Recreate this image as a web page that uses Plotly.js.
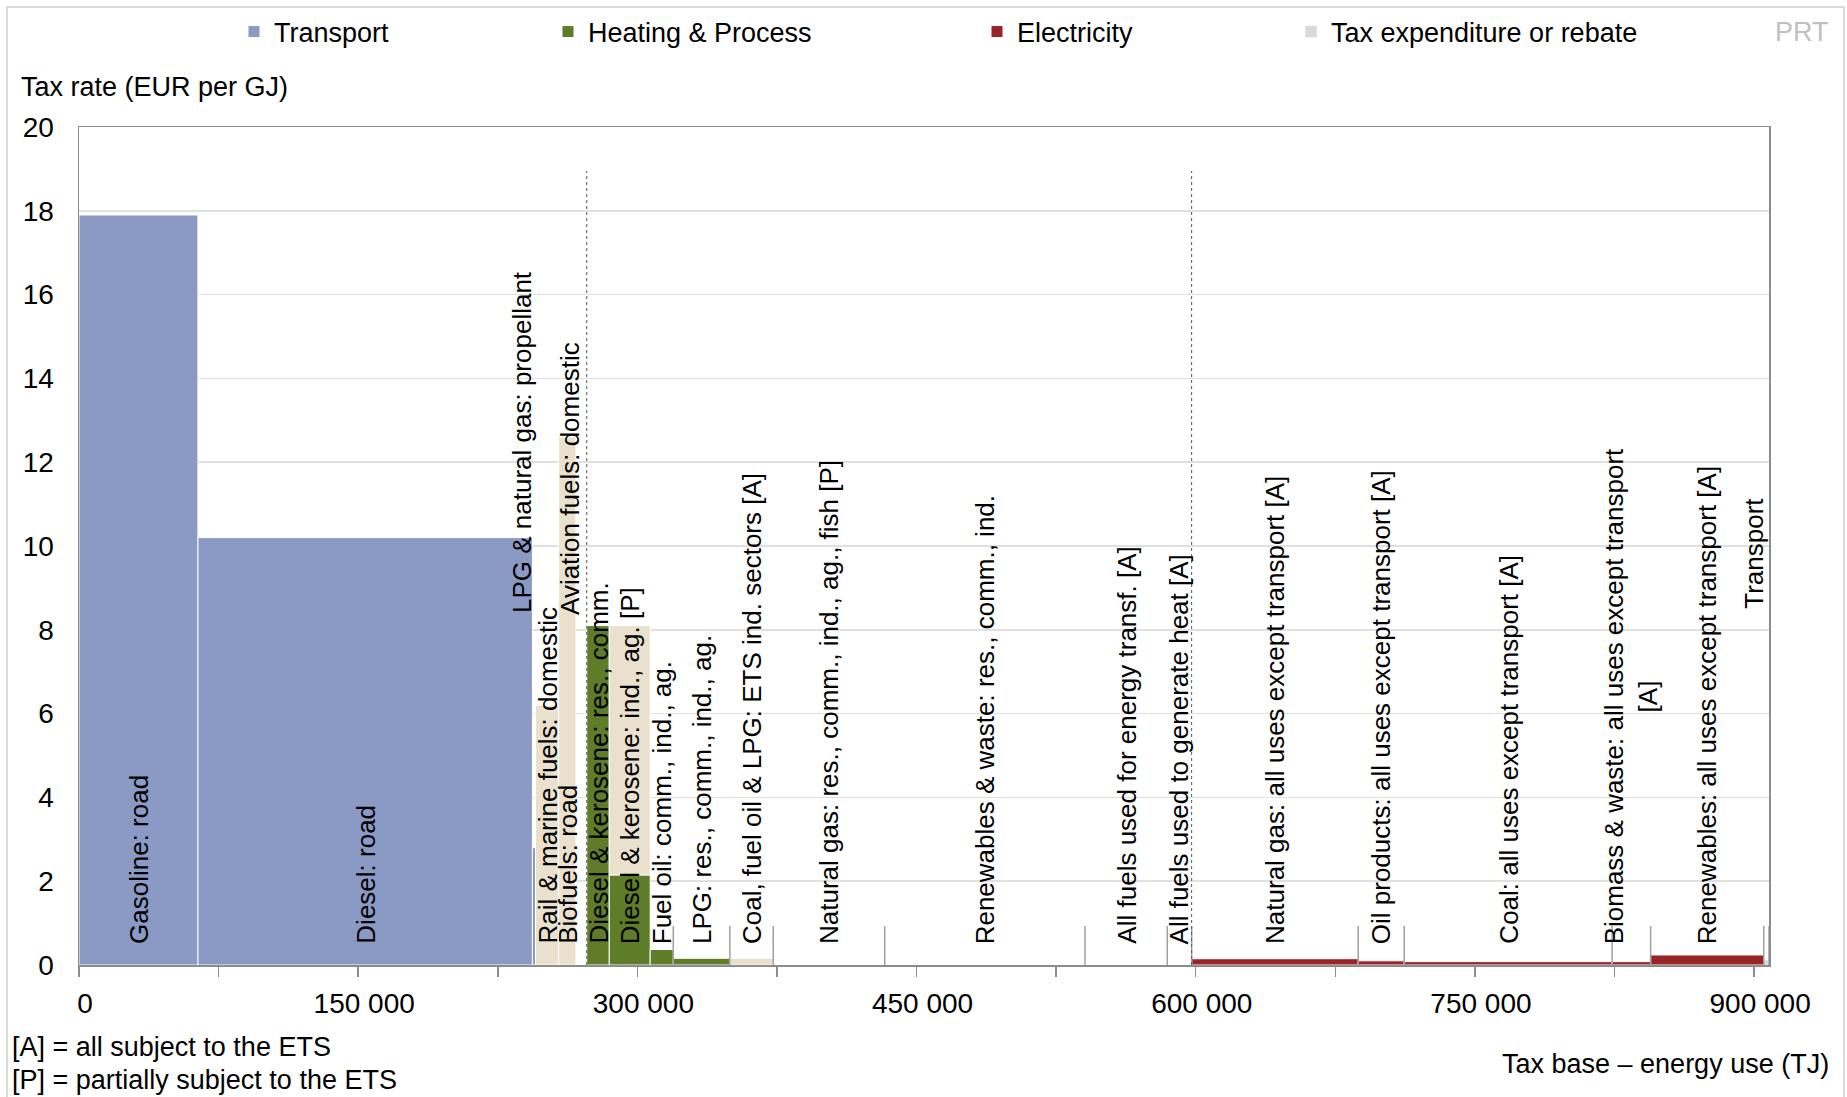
<!DOCTYPE html>
<html>
<head>
<meta charset="utf-8">
<script src="https://cdn.plot.ly/plotly-3.0.1.min.js"></script>
<style>
  html, body { margin: 0; padding: 0; background: #ffffff; }
  #chart { width: 1847px; height: 1097px; }
</style>
</head>
<body>
<div id="chart"></div>
<script>
// ---------------- DATA ----------------
const categories = [
  'Gasoline: road',
  'Diesel: road',
  'LPG & natural gas: propellant',
  'Rail & marine fuels: domestic',
  'Biofuels: road',
  'Aviation fuels: domestic',
  'Diesel & kerosene: res., comm.',
  'Diesel & kerosene: ind., ag. [P]',
  'Fuel oil: comm., ind., ag.',
  'LPG: res., comm., ind., ag.',
  'Coal, fuel oil & LPG: ETS ind. sectors [A]',
  'Natural gas: res., comm., ind., ag., fish [P]',
  'Renewables & waste: res., comm., ind.',
  'All fuels used for energy transf. [A]',
  'All fuels used to generate heat [A]',
  'Natural gas: all uses except transport [A]',
  'Oil products: all uses except transport [A]',
  'Coal: all uses except transport [A]',
  'Biomass & waste: all uses except transport<br>[A]',
  'Renewables: all uses except transport [A]',
  'Transport'
];
const sectors = [
  'Transport', 'Transport', 'Transport', 'Transport', 'Transport', 'Transport',
  'Heating & Process', 'Heating & Process', 'Heating & Process', 'Heating & Process', 'Heating & Process',
  'Heating & Process', 'Heating & Process', 'Heating & Process', 'Heating & Process',
  'Electricity', 'Electricity', 'Electricity', 'Electricity', 'Electricity', 'Electricity'
];
// Tax base: energy use (TJ)
const energyUse = [63900, 179700, 1700, 12400, 9300, 5800,
                   12100, 22000, 12400, 30400, 23300, 59900, 107600, 44200, 13100,
                   89500, 24700, 111700, 20700, 60800, 2800];
// Effective tax rate (EUR per GJ)
const taxRate = [17.9, 10.2, 2.8, 0, 0, 0,
                 8.1, 2.15, 0.37, 0.16, 0, 0, 0, 0, 0,
                 0.15, 0.10, 0.08, 0.08, 0.24, 0];
// Tax expenditure or rebate (EUR per GJ), on top of the rate
const taxExpenditure = [0, 0, 0, 6.2, 12.6, 0,
                        0, 5.95, 0, 0, 0.16, 0, 0, 0, 0,
                        0, 0, 0, 0, 0, 0.12];
const xTickValues = [0, 75000, 150000, 225000, 300000, 375000, 450000, 525000, 600000, 675000, 750000, 825000, 900000];
const yTickValues = [0, 2, 4, 6, 8, 10, 12, 14, 16, 18, 20];

// ---------------- STYLE ----------------
const COLORS = {
  'Transport': '#8a9ac5',
  'Heating & Process': '#5f7d28',
  'Electricity': '#982427',
  te: '#e9e1cd',
  teLegend: '#d9d9d9'
};
const FONT = '"Liberation Sans", Arial, sans-serif';

// ---------------- DERIVED POSITIONS ----------------
const starts = [];
let acc = 0;
energyUse.forEach(w => { starts.push(acc); acc += w; });
const total = acc;
const centers = energyUse.map((w, i) => starts[i] + w / 2);
const totals = taxRate.map((r, i) => r + taxExpenditure[i]);

const traces = [];
['Transport', 'Heating & Process', 'Electricity'].forEach((s, k) => {
  const idx = sectors.map((v, i) => v === s ? i : -1).filter(i => i >= 0);
  traces.push({
    type: 'bar', name: s,
    x: idx.map(i => centers[i]), y: idx.map(i => taxRate[i]), width: idx.map(i => energyUse[i]),
    marker: { color: COLORS[s], line: { color: '#ffffff', width: 1 } },
    legend: k === 0 ? 'legend' : 'legend' + (k + 1),
    hovertext: idx.map(i => categories[i]), hoverinfo: 'text+y'
  });
});
// tax expenditure bars (beige for fuels, grey for electricity)
const teIdxMain = taxExpenditure.map((v, i) => (v > 0 && sectors[i] !== 'Electricity') ? i : -1).filter(i => i >= 0);
const teIdxElec = taxExpenditure.map((v, i) => (v > 0 && sectors[i] === 'Electricity') ? i : -1).filter(i => i >= 0);
traces.push({
  type: 'bar', name: 'Tax expenditure or rebate', showlegend: false, legendgroup: 'te',
  x: teIdxMain.map(i => centers[i]), y: teIdxMain.map(i => taxExpenditure[i]),
  base: teIdxMain.map(i => taxRate[i]), width: teIdxMain.map(i => energyUse[i]),
  marker: { color: COLORS.te, line: { color: '#ffffff', width: 1 } },
  hoverinfo: 'skip'
});
traces.push({
  type: 'bar', name: 'Tax expenditure or rebate', legend: 'legend4', legendgroup: 'te',
  x: teIdxElec.map(i => centers[i]), y: teIdxElec.map(i => taxExpenditure[i]),
  base: teIdxElec.map(i => taxRate[i]), width: teIdxElec.map(i => energyUse[i]),
  marker: { color: COLORS.teLegend, line: { color: '#ffffff', width: 0.5 } },
  hoverinfo: 'skip'
});

// small grey separators between low bars
const SEP_H = 0.93;
const sepX = [], sepY = [];
for (let i = 1; i <= energyUse.length; i++) {
  const left = totals[i - 1];
  const right = i < energyUse.length ? totals[i] : 0;
  if (Math.max(left, right) < SEP_H) {
    const b = i < energyUse.length ? starts[i] : total;
    sepX.push(b, b, null); sepY.push(0, SEP_H, null);
  }
}
traces.push({
  type: 'scatter', mode: 'lines', x: sepX, y: sepY, showlegend: false, hoverinfo: 'skip',
  line: { color: '#a0a0a0', width: 1.5 }
});
// dotted lines at sector changes
const dotX = [], dotY = [];
for (let i = 1; i < sectors.length; i++) {
  if (sectors[i] !== sectors[i - 1]) { dotX.push(starts[i], starts[i], null); dotY.push(0, 18.95, null); }
}
traces.push({
  type: 'scatter', mode: 'lines', x: dotX, y: dotY, showlegend: false, hoverinfo: 'skip',
  line: { color: '#555555', width: 1, dash: 'dot' }
});

// ---------------- LABELS ----------------
const raisedLabel = { 2: 8.4, 5: 8.35, 20: 8.5 };
const annotations = categories.map((c, i) => {
  const raised = raisedLabel[i] !== undefined;
  return {
    x: centers[i], y: raised ? raisedLabel[i] : 0, xref: 'x', yref: 'y',
    text: c, textangle: -90, showarrow: false,
    xanchor: 'center', yanchor: 'bottom', align: 'center',
    xshift: raised ? -12 : 0, yshift: raised ? -2 : 19,
    font: { family: FONT, size: 26, color: '#000000' }
  };
});
const L = 79, R = 78, T = 127, B = 132, W = 1847, H = 1097;
const pw = W - L - R, ph = H - T - B;
const px = v => (v - L) / pw;
const py = v => (H - B - v) / ph;
const textAnn = (text, x, y, xa, size, color) => ({
  text, x: px(x), y: py(y), xref: 'paper', yref: 'paper', showarrow: false,
  xanchor: xa, yanchor: 'middle', font: { family: FONT, size, color: color || '#000000' }
});
annotations.push(textAnn('Tax rate (EUR per GJ)', 19, 87, 'left', 27));
annotations.push(textAnn('Tax base – energy use (TJ)', 1831, 1064, 'right', 27));
annotations.push(textAnn('[A] = all subject to the ETS', 10, 1047, 'left', 27));
annotations.push(textAnn('[P] = partially subject to the ETS', 10, 1080, 'left', 27));
annotations.push(textAnn('PRT', 1802, 32, 'center', 27, '#bfbfbf'));

const legendBase = (xStart) => ({
  orientation: 'h', xref: 'container', yref: 'container',
  x: (xStart - 40) / W, y: 1 - 32 / H, xanchor: 'left', yanchor: 'middle',
  font: { family: FONT, size: 27, color: '#000000' }, bgcolor: 'rgba(0,0,0,0)', itemwidth: 30
});

const layout = {
  width: W, height: H,
  margin: { l: L, r: R, t: T, b: B, pad: 0 },
  paper_bgcolor: '#ffffff', plot_bgcolor: '#ffffff',
  font: { family: FONT, size: 26, color: '#000000' },
  barmode: 'overlay', bargap: 0,
  showlegend: true,
  legend: legendBase(274),
  legend2: legendBase(588),
  legend3: legendBase(1017),
  legend4: legendBase(1331),
  xaxis: {
    range: [0, total], tickmode: 'array', tickvals: xTickValues,
    ticktext: xTickValues.map(v => (v % 150000 === 0) ? v.toLocaleString('en-US').replace(/,/g, ' ') : ''),
    ticks: 'outside', ticklen: 10, tickwidth: 1.5, tickcolor: '#8c8c8c',
    ticklabelstandoff: 3, ticklabelshift: 6,
    showgrid: false, zeroline: false,
    showline: true, mirror: true, linecolor: '#8c8c8c', linewidth: 1.5,
    tickfont: { family: FONT, size: 28, color: '#000000' }
  },
  yaxis: {
    range: [0, 20], tickmode: 'array', tickvals: yTickValues,
    ticks: '', showgrid: true, gridcolor: '#e0e0e0', gridwidth: 1.5, zeroline: false,
    showline: true, mirror: true, linecolor: '#8c8c8c', linewidth: 1.5,
    ticklabelstandoff: 18,
    tickfont: { family: FONT, size: 28, color: '#000000' }
  },
  annotations,
  shapes: [{
    type: 'rect', xref: 'paper', yref: 'paper',
    x0: px(7), x1: px(1844), y0: py(1110), y1: py(7),
    line: { color: '#d9d9d9', width: 2 }, fillcolor: 'rgba(0,0,0,0)', layer: 'below'
  }]
};

Plotly.newPlot('chart', traces, layout, { displayModeBar: false, staticPlot: true });
</script>
</body>
</html>
